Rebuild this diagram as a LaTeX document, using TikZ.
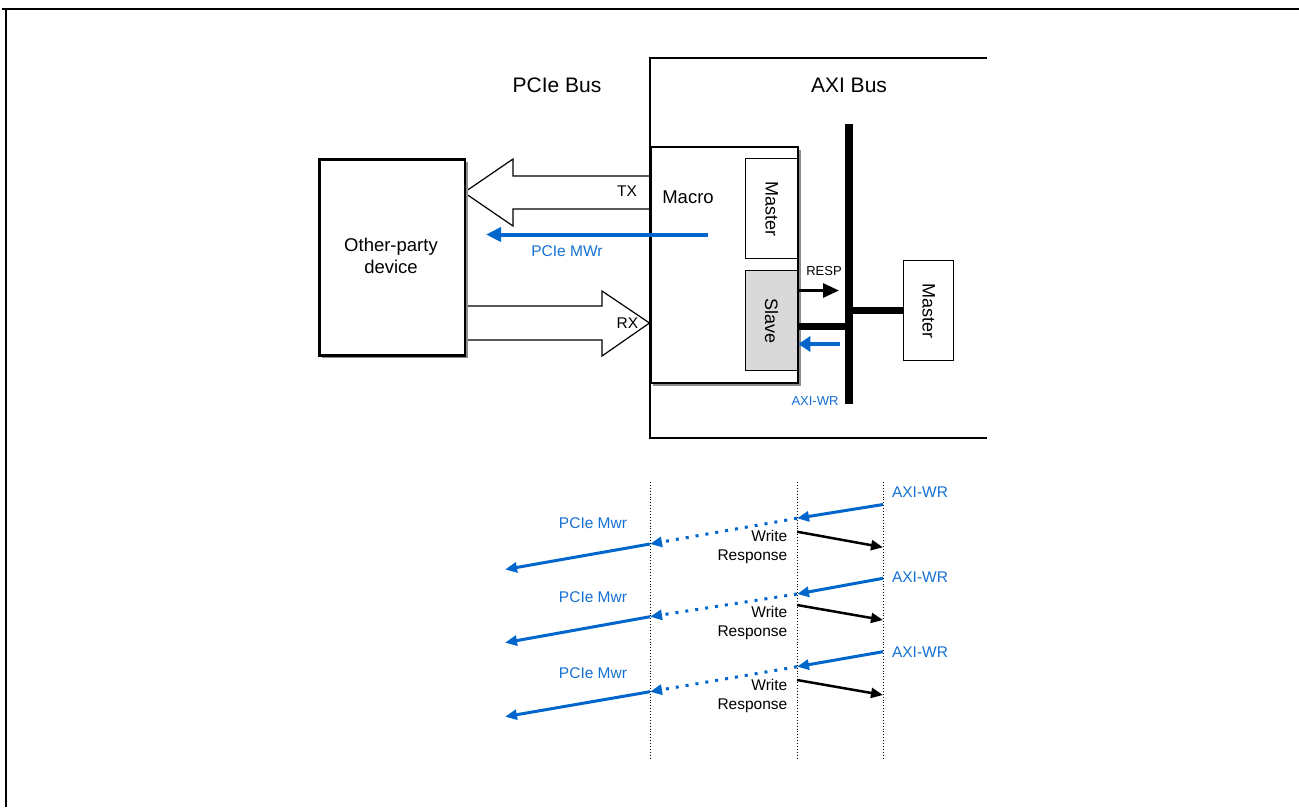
\documentclass[tikz,border=0pt]{standalone}
\usepackage{fontspec}
\setmainfont{Liberation Sans}
\usetikzlibrary{arrows.meta,shadows}
\definecolor{myblue}{RGB}{0,102,204}
\definecolor{txtblue}{RGB}{20,112,210}
\begin{document}
\begin{tikzpicture}[x=1pt,y=-1pt,
  title/.style={font=\fontsize{21}{25}\selectfont, inner sep=0},
  body/.style={font=\fontsize{18.5}{21.7}\selectfont, inner sep=0, align=center},
  small/.style={font=\fontsize{15.5}{19}\selectfont, inner sep=0},
  tiny/.style={font=\fontsize{13}{15}\selectfont, inner sep=0},
  box/.style={draw, line width=1.3pt, anchor=north west, inner sep=0, fill=white},
  rot/.style={rotate=-90, font=\fontsize{18}{21}\selectfont},
  bluearr/.style={draw=myblue, line width=3pt, -{Triangle[length=12pt,width=10pt]}, myblue},
  bluedot/.style={draw=myblue, line width=3pt, dash pattern=on 3pt off 7pt, -{Triangle[length=12pt,width=10pt]}, myblue},
  blackarr/.style={draw=black, line width=2.5pt, -{Triangle[length=12pt,width=10pt]}},
  lifeline/.style={draw, line width=0.9pt, dotted}
]
\useasboundingbox (0,0) rectangle (1299,807);
% frame
\draw[line width=2pt] (2,9) -- (1299,9);
\draw[line width=1.8pt] (5.8,8) -- (5.8,807);

% titles
\node[title] (pcielbl) at (557,85) {PCIe Bus};
\node[title] (axilbl) at (849,85) {AXI Bus};

% TX block arrow
\filldraw[fill=white, line width=1.2pt] (649.5,176) -- (513,176) -- (513,159) -- (464,192.5) -- (513,226) -- (513,209) -- (649.5,209);
\node[small] (txlbl) at (627,191) {TX};
% RX block arrow
\filldraw[fill=white, line width=1.2pt] (464,306) -- (602,306) -- (602,291) -- (649.5,323) -- (602,356) -- (602,340) -- (464,340);
\node[small] (rxlbl) at (627.5,323) {RX};

% AXI region
\draw[line width=2pt] (987,58) -- (649.5,58) -- (649.5,438) -- (987,438);

% macro box
\fill[black!45] (653,149.5) rectangle (800.5,385.5);
\node[box, line width=2pt, minimum width=147.5pt, minimum height=236pt] (macro) at (649.5,146) {};
\node[body] (macrolbl) at (688,197) {Macro};

% other-party device
\fill[black!45] (322,162) rectangle (467.5,358);
\node[box, line width=2.7pt, minimum width=145.5pt, minimum height=196pt] (dev) at (318,158) {};
\node[body] (devlbl) at (391,256) {Other-party\\device};

% PCIe MWr arrow
\coordinate (mwrS) at (708,234.5);
\coordinate (mwrE) at (486,234.5);
\draw[draw=myblue, line width=4pt, -{Triangle[length=15pt,width=14pt]}, myblue] (mwrS) -- (mwrE);
\node[small, text=txtblue] (mwrlbl) at (567,251) {PCIe MWr};

% inner master / slave
\node[box, minimum width=52pt, minimum height=100pt] (mst1) at (745,158) {};
\node[rot] at (mst1.center) {Master};
\node[box, fill=black!15, minimum width=52pt, minimum height=100pt] (slv) at (745,270) {};
\node[rot] at (slv.center) {Slave};

% bus
\coordinate (busT) at (849,124);
\coordinate (busB) at (849,404);
\draw[line width=7.7pt] (busT) -- (busB);

% right master
\node[box, minimum width=50pt, minimum height=100pt] (mst2) at (903,260) {};
\node[rot] at (mst2.center) {Master};

\draw[line width=7pt] (853,310) -- (mst2.west |- 0,310);
\draw[line width=7pt] (slv.east |- 0,326) -- (845.5,326);

% RESP
\draw[line width=3pt, -{Triangle[length=16pt,width=14pt]}] (slv.east |- 0,290.5) -- (839,290.5);
\node[tiny] (resplbl) at (824,271.5) {RESP};
% AXI-WR in block
\draw[draw=myblue, line width=3.5pt, -{Triangle[length=12pt,width=15pt]}, myblue] (840,344) -- (slv.east |- 0,344);
\node[tiny, text=txtblue] (axiwr0) at (815,401) {AXI-WR};

% sequence lifelines
\coordinate (l1t) at (650,482); \coordinate (l1b) at (650,760);
\coordinate (l2t) at (797,482); \coordinate (l2b) at (797,760);
\coordinate (l3t) at (883,482); \coordinate (l3b) at (883,760);
\draw[lifeline] (l1t) -- (l1b);
\draw[lifeline] (l2t) -- (l2b);
\draw[lifeline] (l3t) -- (l3b);

% row 1
\coordinate (a1) at (883,504.5); \coordinate (b1) at (797,518.3);
\coordinate (c1) at (650,544); \coordinate (d1) at (505,569.5);
\coordinate (e1) at (797,531.7); \coordinate (f1) at (883,547.3);
\draw[bluearr] (a1) -- (b1);
\draw[bluedot] (b1) -- (c1);
\draw[bluearr] (c1) -- (d1);
\draw[blackarr] (e1) -- (f1);
\node[small, text=txtblue] (axi1) at (920,492.5) {AXI-WR};
\node[small, text=txtblue] (pm1) at (593,523.5) {PCIe Mwr};
\node[small, align=right, anchor=north east] (wr1) at (787.5,530) {Write\\Response};

% row 2
\coordinate (a2) at (883,578.3); \coordinate (b2) at (797,594);
\coordinate (c2) at (650,616.7); \coordinate (d2) at (505,642.7);
\coordinate (e2) at (797,605); \coordinate (f2) at (883,620);
\draw[bluearr] (a2) -- (b2);
\draw[bluedot] (b2) -- (c2);
\draw[bluearr] (c2) -- (d2);
\draw[blackarr] (e2) -- (f2);
\node[small, text=txtblue] (axi2) at (920,577) {AXI-WR};
\node[small, text=txtblue] (pm2) at (593,597.5) {PCIe Mwr};
\node[small, align=right, anchor=north east] (wr2) at (787.5,606) {Write\\Response};

% row 3
\coordinate (a3) at (883,651.7); \coordinate (b3) at (797,666.7);
\coordinate (c3) at (650,691.7); \coordinate (d3) at (505,716.7);
\coordinate (e3) at (797,680); \coordinate (f3) at (883,695);
\draw[bluearr] (a3) -- (b3);
\draw[bluedot] (b3) -- (c3);
\draw[bluearr] (c3) -- (d3);
\draw[blackarr] (e3) -- (f3);
\node[small, text=txtblue] (axi3) at (920,652) {AXI-WR};
\node[small, text=txtblue] (pm3) at (593,673.5) {PCIe Mwr};
\node[small, align=right, anchor=north east] (wr3) at (787.5,679.5) {Write\\Response};
\end{tikzpicture}
\end{document}
